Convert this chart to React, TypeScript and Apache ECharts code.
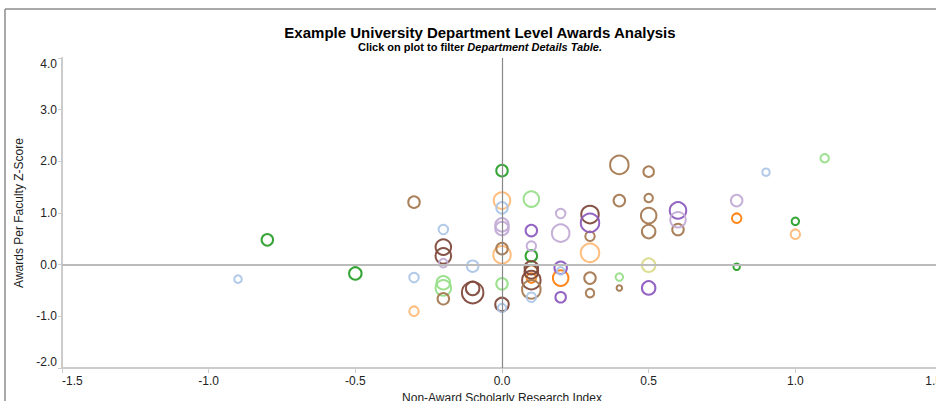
import React, { useEffect, useRef } from "react";
import * as echarts from "echarts";

// [x (research index), y (awards z-score), bubble size]
const greenPts = [[-0.8, 0.48, 13], [-0.5, -0.17, 14], [0.0, 1.82, 13], [0.1, 0.17, 13], [0.8, -0.04, 8], [1.0, 0.84, 9]];
const lightGreenPts = [[1.1, 2.06, 10], [0.1, 1.27, 17], [-0.2, -0.35, 15], [-0.2, -0.45, 17], [0.0, -0.37, 13], [0.4, -0.24, 9]];
const orangePts = [[0.8, 0.9, 11], [0.1, -0.26, 11], [0.2, -0.26, 17]];
const lightOrangePts = [[0.0, 1.24, 18], [0.0, 0.19, 19], [0.3, 0.23, 20], [-0.3, -0.9, 11], [1.0, 0.59, 11], [0.1, -0.15, 15]];
const darkBrownPts = [[-0.2, 0.34, 17], [-0.2, 0.17, 17], [-0.1, -0.46, 15], [-0.1, -0.54, 23], [0.0, -0.77, 15], [0.1, -0.06, 15], [0.1, -0.14, 15], [0.1, -0.3, 20], [0.3, 0.97, 19]];
const tanPts = [[-0.3, 1.21, 13], [-0.2, -0.66, 13], [0.0, 0.31, 13], [0.1, -0.48, 20], [0.3, 0.55, 11], [0.3, -0.26, 13], [0.3, -0.55, 10], [0.4, 1.93, 20], [0.4, 1.24, 13], [0.4, -0.45, 7], [0.5, 1.8, 12], [0.5, 1.29, 10], [0.5, 0.95, 17], [0.5, 0.64, 15], [0.6, 0.68, 13]];
const purplePts = [[0.1, 0.66, 13], [0.3, 0.81, 20], [0.2, -0.06, 14], [0.2, -0.63, 12], [0.5, -0.45, 15], [0.6, 1.05, 18]];
const lightPurplePts = [[0.0, 0.77, 15], [0.0, 0.7, 15], [-0.2, 0.03, 10], [0.1, 0.36, 11], [0.2, 0.99, 11], [0.2, 0.61, 19], [0.6, 0.87, 17], [0.8, 1.24, 13]];
const lightBluePts = [[-0.9, -0.28, 9], [-0.3, -0.25, 11], [-0.2, 0.68, 11], [-0.1, -0.03, 13], [0.0, 1.1, 13], [0.0, -0.84, 10], [0.1, -0.63, 11], [0.2, -0.12, 9], [0.9, 1.79, 9]];
const yellowGreenPts = [[0.5, -0.01, 15]];

const groups = [
  { name: "G1", color: "#2ca02c", data: greenPts },
  { name: "G2", color: "#98df8a", data: lightGreenPts },
  { name: "G3", color: "#ff7f0e", data: orangePts },
  { name: "G4", color: "#ffbb78", data: lightOrangePts },
  { name: "G5", color: "#7f4a3c", data: darkBrownPts },
  { name: "G6", color: "#a57a52", data: tanPts },
  { name: "G7", color: "#8e5cc0", data: purplePts },
  { name: "G8", color: "#c3acd6", data: lightPurplePts },
  { name: "G9", color: "#aec7e8", data: lightBluePts },
  { name: "G10", color: "#dbdb8d", data: yellowGreenPts },
];

const FONT = "'Liberation Sans', Arial, Helvetica, sans-serif";

export default function App() {
  const ref = useRef<HTMLDivElement>(null);
  useEffect(() => {
    if (!ref.current) return;
    const chart = echarts.init(ref.current, undefined, { renderer: "svg" });
    const series: any[] = groups.map((g) => ({
      type: "scatter",
      name: g.name,
      data: g.data,
      symbol: "circle",
      symbolSize: (d: number[]) => d[2] - 1.5,
      itemStyle: { color: "rgba(0,0,0,0)", borderColor: g.color, borderWidth: 2, opacity: 0.95 },
      z: 3,
    }));
    series.push({
      type: "scatter",
      data: [],
      silent: true,
      z: 1,
      markLine: {
        silent: true,
        symbol: "none",
        label: { show: false },
        animation: false,
        data: [
          { xAxis: 0, lineStyle: { color: "#888", width: 1.2, type: "solid" } },
          { yAxis: 0, lineStyle: { color: "#bbb", width: 2, type: "solid" } },
        ],
      },
    });
    chart.setOption({
      animation: false,
      grid: { left: 62, right: 18, top: 58, bottom: 33, containLabel: false, outerBoundsMode: "none" },
      xAxis: {
        type: "value",
        min: -1.5,
        max: 1.5,
        interval: 0.5,
        name: "Non-Award Scholarly Research Index",
        nameLocation: "middle",
        nameGap: 21,
        nameTextStyle: { fontFamily: FONT, fontSize: 12, color: "#222" },
        axisLine: { show: true, onZero: false, lineStyle: { color: "#ccc", width: 2 } },
        axisTick: { show: true, length: 5, lineStyle: { color: "#ccc" } },
        axisLabel: {
          formatter: (v: number) => v.toFixed(1),
          fontFamily: FONT,
          fontSize: 12,
          color: "#222",
          margin: 7,
          alignMinLabel: "left",
          alignMaxLabel: "right",
        },
        splitLine: { show: false },
      },
      yAxis: {
        type: "value",
        min: -2,
        max: 4,
        interval: 1,
        name: "Awards Per Faculty Z-Score",
        nameLocation: "middle",
        nameGap: 36,
        nameTextStyle: { fontFamily: FONT, fontSize: 12, color: "#222" },
        axisLine: { show: true, onZero: false, lineStyle: { color: "#ccc", width: 2 } },
        axisTick: { show: true, length: 4, lineStyle: { color: "#ccc" } },
        axisLabel: {
          formatter: (v: number) => v.toFixed(1),
          fontFamily: FONT,
          fontSize: 12,
          color: "#222",
          margin: 5,
          verticalAlignMaxLabel: "top",
          verticalAlignMinLabel: "bottom",
        },
        splitLine: { show: false },
      },
      series,
      graphic: [
        { type: "line", shape: { x1: 5, y1: 9, x2: 960, y2: 9 }, style: { stroke: "#8c8c8c", lineWidth: 1.5 }, silent: true },
        { type: "line", shape: { x1: 5, y1: 9, x2: 5, y2: 401 }, style: { stroke: "#8c8c8c", lineWidth: 1.5 }, silent: true },
        {
          type: "text",
          x: 480,
          y: 32,
          style: {
            text: "Example University Department Level Awards Analysis",
            font: `bold 15px ${FONT}`,
            fill: "#000",
            textAlign: "center",
            textVerticalAlign: "middle",
          },
        },
        {
          type: "text",
          x: 480,
          y: 47,
          style: {
            text: "{b|Click on plot to filter }{i|Department Details Table.}",
            textAlign: "center",
            textVerticalAlign: "middle",
            rich: {
              b: { fontFamily: FONT, fontSize: 11, fontWeight: "bold", fill: "#000" },
              i: { fontFamily: FONT, fontSize: 11, fontWeight: "bold", fontStyle: "italic", fill: "#000" },
            },
          },
        },
      ],
    });
    return () => chart.dispose();
  }, []);
  return (
    <div style={{ position: "absolute", left: 0, top: 0, width: 936, height: 401, overflow: "hidden", background: "#fff" }}>
      <div ref={ref} style={{ width: 960, height: 401 }} />
    </div>
  );
}
